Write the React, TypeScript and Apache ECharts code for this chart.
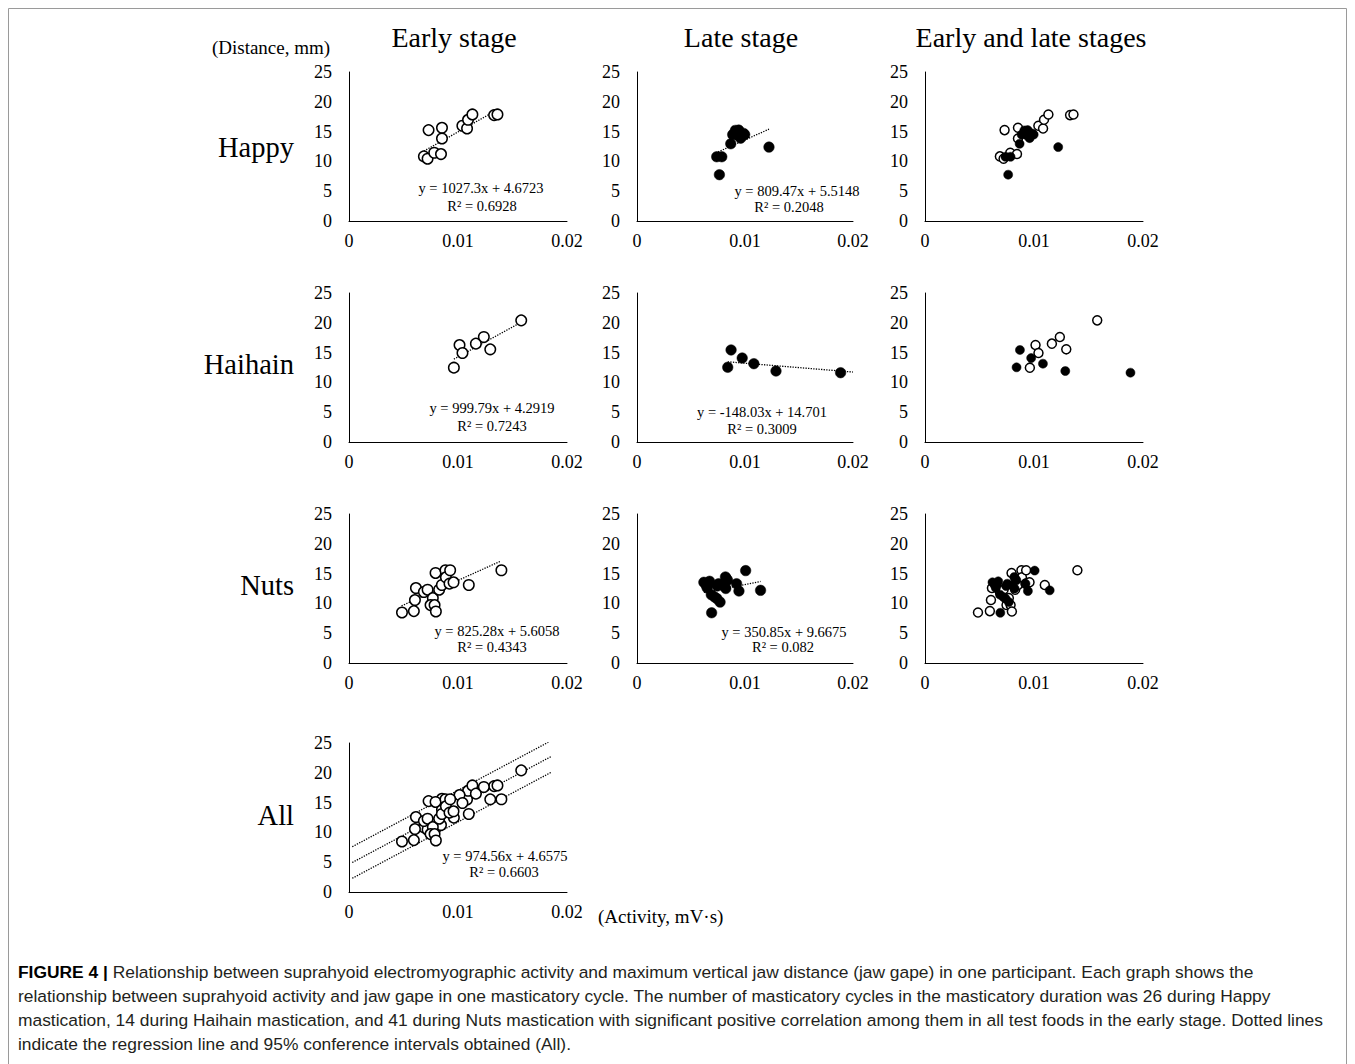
import React, { useEffect, useRef } from "react";
import * as echarts from "echarts";

// ---------- data ----------
const colTitles = ["Early stage", "Late stage", "Early and late stages"];
const rowLabels = ["Happy", "Haihain", "Nuts", "All"];
const xTickLabels = ["0", "0.01", "0.02"];

const happyEarly: number[][] = [
  [0.00687, 10.84], [0.00721, 10.45], [0.0073, 15.25], [0.00782, 11.45], [0.00844, 11.23],
  [0.00853, 15.64], [0.00853, 13.85], [0.0104, 15.98], [0.01083, 15.53], [0.01092, 16.98],
  [0.01132, 17.88], [0.01331, 17.77], [0.01362, 17.88],
];
const happyLate: number[][] = [
  [0.00738, 10.78], [0.00785, 10.78], [0.00763, 7.77], [0.00868, 12.96], [0.00886, 14.5],
  [0.00911, 15.2], [0.00942, 15.25], [0.00935, 14.36], [0.0096, 13.9], [0.00985, 14.7],
  [0.00997, 14.5], [0.00923, 14.8], [0.01222, 12.4],
];
const haihainEarly: number[][] = [
  [0.00962, 12.47], [0.01014, 16.27], [0.01041, 14.93], [0.01164, 16.5], [0.01237, 17.62],
  [0.01296, 15.55], [0.0158, 20.41],
];
const haihainLate: number[][] = [
  [0.0084, 12.53], [0.00871, 15.44], [0.00974, 14.09], [0.01082, 13.14], [0.01287, 11.91],
  [0.01885, 11.63],
];
const nutsEarly: number[][] = [
  [0.00486, 8.48], [0.00595, 8.71], [0.00605, 10.56], [0.00614, 12.58], [0.00687, 11.91],
  [0.00721, 12.3], [0.00769, 10.9], [0.00748, 9.72], [0.00785, 9.72], [0.00797, 8.65],
  [0.00794, 15.11], [0.00827, 12.3], [0.00852, 13.09], [0.00885, 15.56], [0.00889, 14.38],
  [0.00922, 13.31], [0.00928, 15.56], [0.00959, 13.54], [0.01099, 13.09], [0.01398, 15.56],
];
const nutsLate: number[][] = [
  [0.00619, 13.54], [0.00641, 13.03], [0.0065, 12.6], [0.00672, 13.71], [0.0066, 13.2],
  [0.00688, 11.46], [0.00691, 8.43], [0.00719, 11.07], [0.0074, 10.8], [0.00744, 12.92],
  [0.00769, 10.22], [0.00755, 13.3], [0.00819, 14.44], [0.00822, 12.5], [0.00838, 13.88],
  [0.008, 13.0], [0.00922, 13.31], [0.00944, 12.08], [0.01006, 15.5], [0.01144, 12.19],
  [0.0083, 14.1],
];

// regression lines (Happy E, Happy L, Haihain E, Haihain L, Nuts E, Nuts L, All)
const trendSlopes = [1027.3, 809.47, 999.79, -148.03, 825.28, 350.85, 974.56];
const trendIntercepts = [4.6723, 5.5148, 4.2919, 14.701, 5.6058, 9.6675, 4.6575];
const trendRanges = [
  [0.00687, 0.01356], [0.00729, 0.01222], [0.00962, 0.0158], [0.0084, 0.02],
  [0.00482, 0.0139], [0.00619, 0.01144], [0.0003, 0.0186],
];
const allBand = 2.65; // 95% interval half-width (All)
const eqTexts = [
  "y = 1027.3x + 4.6723", "y = 809.47x + 5.5148", "y = 999.79x + 4.2919",
  "y = -148.03x + 14.701", "y = 825.28x + 5.6058", "y = 350.85x + 9.6675", "y = 974.56x + 4.6575",
];
const r2Texts = ["R² = 0.6928", "R² = 0.2048", "R² = 0.7243", "R² = 0.3009", "R² = 0.4343", "R² = 0.082", "R² = 0.6603"];

const captionLines = [
  "Relationship between suprahyoid electromyographic activity and maximum vertical jaw distance (jaw gape) in one participant. Each graph shows the",
  "relationship between suprahyoid activity and jaw gape in one masticatory cycle. The number of masticatory cycles in the masticatory duration was 26 during Happy",
  "mastication, 14 during Haihain mastication, and 41 during Nuts mastication with significant positive correlation among them in all test foods in the early stage. Dotted lines",
  "indicate the regression line and 95% conference intervals obtained (All).",
];

// ---------- layout ----------
const colLeft = [349, 637, 925];
const colWidth = [218, 216, 218];
const rowTop = [72, 293, 514, 743];
const gridH = 149;
const SERIF = "'Liberation Serif', 'Times New Roman', serif";
const SANS = "'Liberation Sans', Arial, sans-serif";

// eq positions [eqCx, eqCy, r2Cx, r2Cy]
const eqPos = [
  [481, 188, 482, 206], [797, 191, 789, 207], [492, 408, 492, 426], [762, 412, 762, 429],
  [497, 631, 492, 647], [784, 632, 783, 647], [505, 856, 504, 872],
];

export default function App() {
  const ref = useRef<HTMLDivElement>(null);
  useEffect(() => {
    document.body.style.margin = "0";
    const chart = echarts.init(ref.current!, undefined, { renderer: "svg" });

    const panels: { r: number; c: number; open?: number[][]; filled?: number[][]; trend?: number; small?: boolean }[] = [
      { r: 0, c: 0, open: happyEarly, trend: 0 },
      { r: 0, c: 1, filled: happyLate, trend: 1 },
      { r: 0, c: 2, open: happyEarly, filled: happyLate, small: true },
      { r: 1, c: 0, open: haihainEarly, trend: 2 },
      { r: 1, c: 1, filled: haihainLate, trend: 3 },
      { r: 1, c: 2, open: haihainEarly, filled: haihainLate, small: true },
      { r: 2, c: 0, open: nutsEarly, trend: 4 },
      { r: 2, c: 1, filled: nutsLate, trend: 5 },
      { r: 2, c: 2, open: nutsEarly, filled: nutsLate, small: true },
      { r: 3, c: 0, open: [...happyEarly, ...haihainEarly, ...nutsEarly], trend: 6 },
    ];

    const grid: any[] = [];
    const xAxis: any[] = [];
    const yAxis: any[] = [];
    const series: any[] = [];
    const graphic: any[] = [];
    const axisLabel = { color: "#000", fontFamily: SERIF, fontSize: 18 };

    const lineSeries = (gi: number, pts: number[][]) => ({
      type: "line", xAxisIndex: gi, yAxisIndex: gi, data: pts, symbol: "none", silent: true,
      lineStyle: { color: "#000", width: 1.3, type: [1.3, 1.3] }, z: 1,
    });

    panels.forEach((p, gi) => {
      grid.push({ left: colLeft[p.c], top: rowTop[p.r], width: colWidth[p.c], height: gridH });
      xAxis.push({
        gridIndex: gi, type: "value", min: 0, max: 0.02, interval: 0.01,
        axisLine: { show: true, onZero: false, lineStyle: { color: "#000", width: 1 } },
        axisTick: { show: false }, splitLine: { show: false },
        axisLabel: { ...axisLabel, margin: 11, formatter: (v: number) => xTickLabels[Math.round(v / 0.01)] },
      });
      yAxis.push({
        gridIndex: gi, type: "value", min: 0, max: 25, interval: 5,
        axisLine: { show: true, onZero: false, lineStyle: { color: "#000", width: 1 } },
        axisTick: { show: false }, splitLine: { show: false },
        axisLabel: { ...axisLabel, margin: 17 },
      });
      const sz = p.small ? 9 : 10.5;
      if (p.trend !== undefined) {
        const t = p.trend;
        const [x0, x1] = trendRanges[t];
        const f = (x: number) => trendSlopes[t] * x + trendIntercepts[t];
        series.push(lineSeries(gi, [[x0, f(x0)], [x1, f(x1)]]));
        if (t === 6) {
          series.push(lineSeries(gi, [[x0, f(x0) + allBand], [x1, f(x1) + allBand]]));
          series.push(lineSeries(gi, [[x0, f(x0) - allBand], [x1, f(x1) - allBand]]));
        }
        const [ex, ey, rx, ry] = eqPos[t];
        graphic.push({ type: "text", x: ex, y: ey, style: { text: eqTexts[t], fontFamily: SERIF, fontSize: 14.5, fill: "#000", align: "center", verticalAlign: "middle" } });
        graphic.push({ type: "text", x: rx, y: ry, style: { text: r2Texts[t], fontFamily: SERIF, fontSize: 14.5, fill: "#000", align: "center", verticalAlign: "middle" } });
      }
      if (p.open) {
        series.push({
          type: "scatter", xAxisIndex: gi, yAxisIndex: gi, data: p.open, symbol: "circle", symbolSize: sz,
          itemStyle: { color: "#fff", borderColor: "#000", borderWidth: 1.5, opacity: 1 }, z: 2,
        });
      }
      if (p.filled) {
        series.push({
          type: "scatter", xAxisIndex: gi, yAxisIndex: gi, data: p.filled, symbol: "circle", symbolSize: sz,
          itemStyle: { color: "#000", borderColor: "#000", borderWidth: 0.5, opacity: 1 }, z: 3,
        });
      }
    });

    // titles and labels
    const colTitleX = [454, 741, 1031];
    colTitles.forEach((t, i) => graphic.push({ type: "text", x: colTitleX[i], y: 37, style: { text: t, fontFamily: SERIF, fontSize: 28, fill: "#000", align: "center", verticalAlign: "middle" } }));
    const rowLabelY = [147, 364, 585, 815];
    rowLabels.forEach((t, i) => graphic.push({ type: "text", x: 294, y: rowLabelY[i], style: { text: t, fontFamily: SERIF, fontSize: 28.5, fill: "#000", align: "right", verticalAlign: "middle" } }));
    graphic.push({ type: "text", x: 271, y: 47, style: { text: "(Distance, mm)", fontFamily: SERIF, fontSize: 19, fill: "#000", align: "center", verticalAlign: "middle" } });
    graphic.push({ type: "text", x: 598, y: 916, style: { text: "(Activity, mV·s)", fontFamily: SERIF, fontSize: 19, fill: "#000", align: "left", verticalAlign: "middle" } });

    // frame
    graphic.push({ type: "rect", shape: { x: 8.5, y: 8.5, width: 1338, height: 1100 }, style: { fill: "none", stroke: "#9a9a9a", lineWidth: 1 }, silent: true });

    // caption
    captionLines.forEach((t, i) => {
      graphic.push({
        type: "text", x: 18, y: 972 + i * 24,
        style: {
          text: i === 0 ? "{b|FIGURE 4 |} " + t : t,
          rich: { b: { fontFamily: SANS, fontWeight: "bold", fontSize: 17.4, fill: "#000" } },
          fontFamily: SANS, fontSize: 17.4, fill: "#231f20", align: "left", verticalAlign: "middle",
        },
      });
    });

    chart.setOption({ animation: false, backgroundColor: "#fff", grid, xAxis, yAxis, series, graphic });
    return () => chart.dispose();
  }, []);
  return <div ref={ref} style={{ width: 1355, height: 1064 }} />;
}
